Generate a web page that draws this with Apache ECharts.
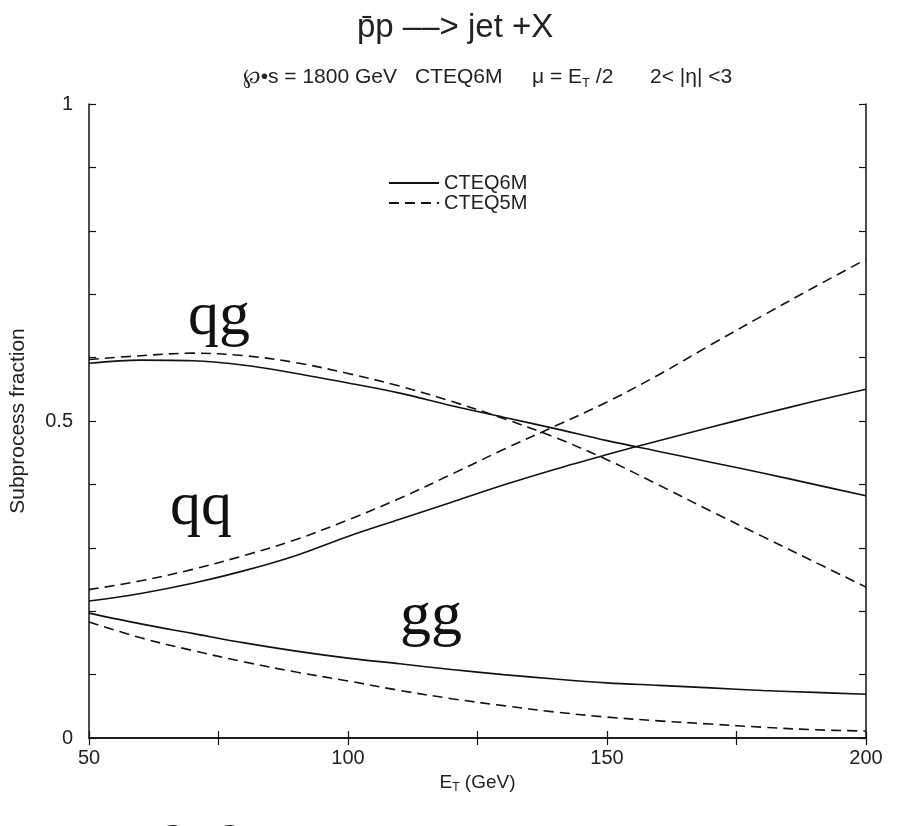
<!DOCTYPE html>
<html><head><meta charset="utf-8">
<script src="https://cdn.jsdelivr.net/npm/echarts@6/dist/echarts.min.js"></script>
<style>html,body{margin:0;padding:0;background:#fff}#c{width:905px;height:826px}</style>
</head><body><div id="c"></div>
<script>
// E_T values (GeV)
const et = [50,60,70,80,90,100,110,120,130,140,150,160,170,180,190,200];
// CTEQ6M (solid)
const qg6 = [0.591,0.596,0.595,0.588,0.575,0.560,0.544,0.524,0.506,0.488,0.469,0.452,0.435,0.418,0.400,0.382];
const qq6 = [0.216,0.228,0.244,0.264,0.288,0.318,0.345,0.372,0.399,0.424,0.447,0.469,0.490,0.511,0.531,0.550];
const gg6 = [0.197,0.180,0.165,0.150,0.137,0.126,0.117,0.108,0.100,0.093,0.087,0.083,0.079,0.075,0.072,0.069];
// CTEQ5M (dashed)
const qg5 = [0.597,0.603,0.607,0.603,0.592,0.575,0.555,0.531,0.504,0.474,0.439,0.399,0.358,0.318,0.278,0.238];
const qq5 = [0.234,0.248,0.266,0.288,0.313,0.344,0.378,0.416,0.455,0.492,0.530,0.573,0.620,0.666,0.711,0.755];
const gg5 = [0.183,0.158,0.138,0.120,0.104,0.090,0.075,0.062,0.051,0.041,0.033,0.027,0.022,0.017,0.013,0.011];
const legendNames = ['CTEQ6M','CTEQ5M'];
const curveLabels = ['qg','qq','gg'];

const FONT = 'Liberation Sans, Arial, sans-serif';
const SERIF = 'Liberation Serif, Times New Roman, serif';
const chart = echarts.init(document.getElementById('c'), null, {renderer:'canvas'});

function mk(name, arr, dashed){
  return {
    name: name, type:'line', smooth:0.35, symbol:'none', showSymbol:false, silent:true,
    data: et.map((x,i)=>[x, arr[i]]),
    lineStyle:{color:'#111', width:1.6, type: dashed ? [10,6] : 'solid'},
    itemStyle:{color:'#111'}
  };
}

const axisBase = {
  axisLine:{show:true, lineStyle:{color:'#111', width:1.5}},
  axisTick:{show:true, inside:true, length:7, lineStyle:{color:'#111', width:1.2}},
  splitLine:{show:false}
};

const option = {
  animation:false,
  backgroundColor:'#fff',
  grid:{left:88, right:39, top:104, bottom:88, containLabel:false},
  legend:{
    data: legendNames, orient:'vertical', left:383, top:168,
    itemWidth:50, itemHeight:10, itemGap:0,
    itemStyle:{opacity:0},
    textStyle:{fontFamily:FONT, fontSize:20, color:'#222', lineHeight:19},
    selectedMode:false
  },
  graphic:[
    {type:'text', x:357, y:28, style:{text:'p\u0304p \u2013\u2013> jet +X', font:'33px '+FONT, fill:'#222', verticalAlign:'middle'}},
    {type:'text', x:397, y:77, style:{text:'\u2118\u2022s = 1800 GeV', font:'21px '+FONT, fill:'#222', align:'right', verticalAlign:'middle'}},
    {type:'text', x:415, y:77, style:{text:'CTEQ6M', font:'21px '+FONT, fill:'#222', verticalAlign:'middle'}},
    {type:'text', x:532, y:77, style:{text:'{a|\u03bc = E}{s|T}{a| /2}', fill:'#222', verticalAlign:'middle',
      rich:{a:{fontFamily:FONT, fontSize:21, color:'#222'}, s:{fontFamily:FONT, fontSize:13, color:'#222', padding:[12,0,0,0]}}}},
    {type:'text', x:650, y:77, style:{text:'2< |\u03b7| <3', font:'21px '+FONT, fill:'#222', verticalAlign:'middle'}},
    {type:'text', x:188, y:318, style:{text:curveLabels[0], font:'62px '+SERIF, fill:'#111', verticalAlign:'middle'}},
    {type:'text', x:170, y:508, style:{text:curveLabels[1], font:'62px '+SERIF, fill:'#111', verticalAlign:'middle'}},
    {type:'text', x:400, y:618, style:{text:curveLabels[2], font:'62px '+SERIF, fill:'#111', verticalAlign:'middle'}},
    {type:'text', x:165, y:840, style:{text:'2\u21922', font:'38px '+SERIF, fill:'#111', verticalAlign:'middle'}}
  ],
  xAxis:[
    Object.assign({}, axisBase, {
      type:'value', min:50, max:200, interval:25, position:'bottom',
      name:'{a|E}{s|T}{a| (GeV)}', nameLocation:'middle', nameGap:28,
      nameTextStyle:{rich:{a:{fontFamily:FONT, fontSize:19, color:'#222'}, s:{fontFamily:FONT, fontSize:12, color:'#222', padding:[10,0,0,0]}}},
      axisLabel:{show:true, margin:10, fontFamily:FONT, fontSize:20, color:'#222',
        formatter: v => (Math.round(v) % 50 === 0 ? String(Math.round(v)) : '')}
    }),
    Object.assign({}, axisBase, {
      type:'value', min:50, max:200, interval:25, position:'top', axisLabel:{show:false}
    })
  ],
  yAxis:[
    Object.assign({}, axisBase, {
      type:'value', min:0, max:1, interval:0.1, position:'left',
      name:'Subprocess fraction', nameLocation:'middle', nameGap:60,
      nameTextStyle:{fontFamily:FONT, fontSize:21, color:'#222'},
      axisLabel:{show:true, margin:16, fontFamily:FONT, fontSize:20, color:'#222',
        formatter: v => { const r = Math.round(v*10); return r===0?'0':(r===5?'0.5':(r===10?'1':'')); }}
    }),
    Object.assign({}, axisBase, {
      type:'value', min:0, max:1, interval:0.1, position:'right', axisLabel:{show:false}
    })
  ],
  series:[
    mk('CTEQ6M', qg6, false), mk('CTEQ6M', qq6, false), mk('CTEQ6M', gg6, false),
    mk('CTEQ5M', qg5, true), mk('CTEQ5M', qq5, true), mk('CTEQ5M', gg5, true)
  ]
};
chart.setOption(option);
</script>
</body></html>
